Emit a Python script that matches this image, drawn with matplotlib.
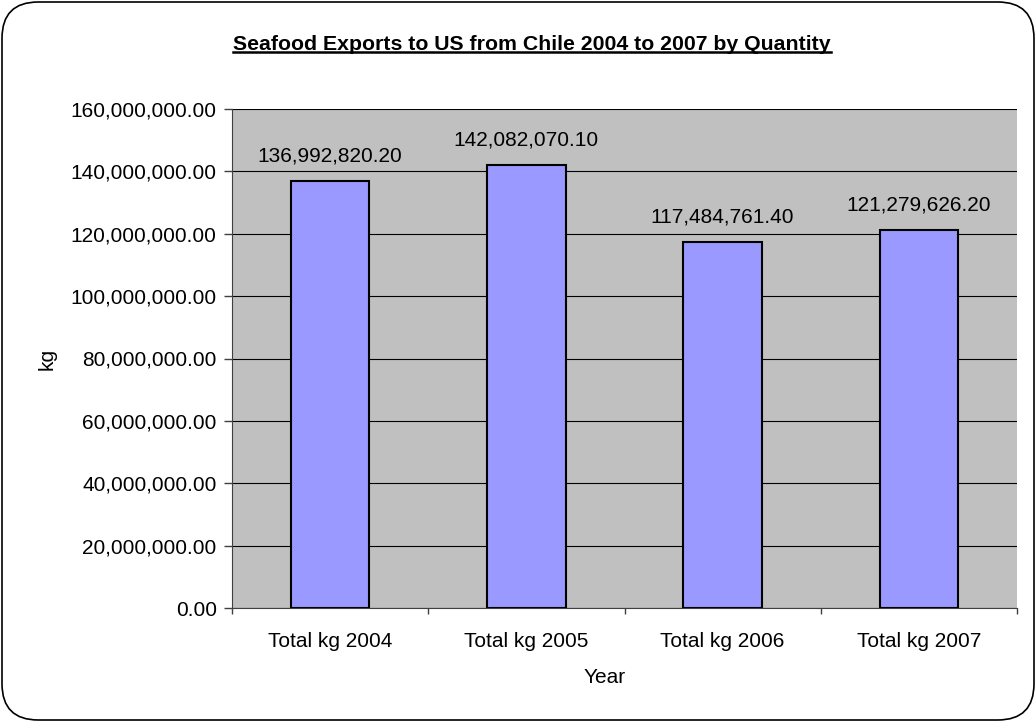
import matplotlib
matplotlib.use('Agg')
import matplotlib.pyplot as plt
from matplotlib.patches import FancyBboxPatch
from matplotlib.lines import Line2D
from matplotlib.ticker import FuncFormatter, MultipleLocator

plt.rcParams['font.family'] = ['Liberation Sans', 'DejaVu Sans']

categories = ['Total kg 2004', 'Total kg 2005', 'Total kg 2006', 'Total kg 2007']
values = [136992820.20, 142082070.10, 117484761.40, 121279626.20]

fs = 15

fig = plt.figure(figsize=(10.36, 7.22), dpi=100)
ax = fig.add_axes([232/1036, 114/722, (1017-232)/1036, (608-109)/722])

# rounded outer frame
frame = FancyBboxPatch((2/1036, 2/722), 1032/1036, 718/722,
                       boxstyle='round,pad=0,rounding_size=0.035',
                       transform=fig.transFigure, facecolor='none',
                       edgecolor='black', linewidth=1.2, mutation_aspect=1036/722)
fig.patches.append(frame)

x = range(len(categories))
ax.set_facecolor('#C0C0C0')
ax.bar(x, values, width=0.4, color='#9999FF', edgecolor='black', linewidth=1.5, zorder=3)

for xi, v in zip(x, values):
    ax.annotate(f'{v:,.2f}', (xi, v), xytext=(0, 18), textcoords='offset points',
                ha='center', va='center', fontsize=fs)

ax.set_xlim(-0.5, 3.5)
ax.set_ylim(0, 160000000)
ax.yaxis.set_major_locator(MultipleLocator(20000000))
ax.yaxis.set_major_formatter(FuncFormatter(lambda v, p: f'{v:,.2f}'))
ax.grid(axis='y', color='black', linewidth=0.8, zorder=1)
ax.set_axisbelow(True)

ax.set_xticks([-0.5, 0.5, 1.5, 2.5, 3.5])
ax.set_xticklabels([])
ax.set_xticks(list(x), minor=True)
ax.set_xticklabels(categories, minor=True)
ax.tick_params(axis='x', which='minor', length=0, pad=17, labelsize=fs)
ax.tick_params(axis='x', which='major', length=4.5, width=1, color='#404040')
ax.tick_params(axis='y', length=6, width=1, color='#404040', labelsize=fs, pad=5)

for side in ['top', 'right']:
    ax.spines[side].set_visible(False)
ax.spines['left'].set_color('#404040')
ax.spines['bottom'].set_color('#404040')

ax.set_xlabel('Year', fontsize=fs)
ax.xaxis.set_label_coords(0.474, -0.121)
ax.set_ylabel('kg', fontsize=fs)
ax.yaxis.set_label_coords(-0.223, 0.5)

title = fig.text(532/1036, 1 - 44/722, 'Seafood Exports to US from Chile 2004 to 2007 by Quantity',
                 ha='center', va='center', fontsize=15.3, fontweight='bold')
fig.canvas.draw()
bb = title.get_window_extent().transformed(fig.transFigure.inverted())
fig.lines.append(Line2D([bb.x0, bb.x1], [bb.y0 + 0.002, bb.y0 + 0.002], transform=fig.transFigure,
                        color='black', linewidth=1.8))

fig.savefig('out.png', dpi=100)
